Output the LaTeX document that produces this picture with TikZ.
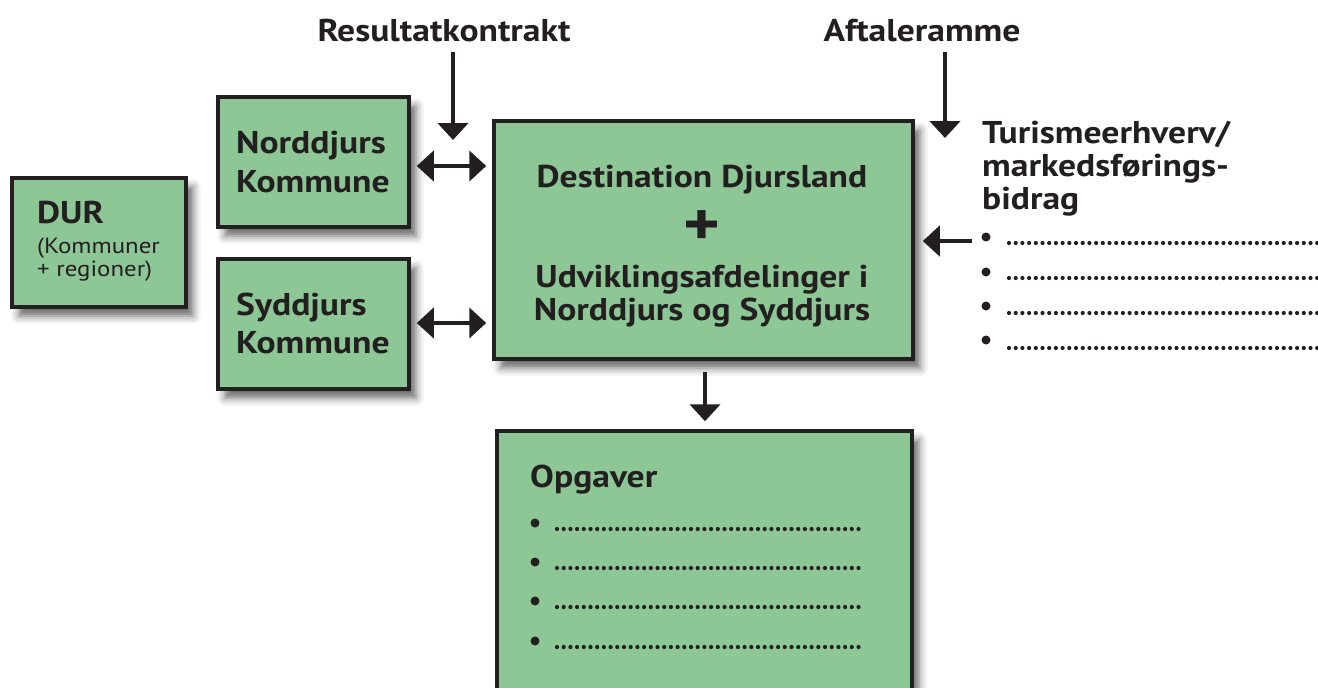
\documentclass[tikz,border=0pt]{standalone}
\usepackage{fontspec}
\setmainfont{PT Sans}[FakeStretch=1.13]
\usetikzlibrary{arrows.meta,shadows.blur}
\definecolor{boxgreen}{RGB}{141,199,150}
\definecolor{ink}{RGB}{35,31,32}
\begin{document}
\begin{tikzpicture}[x=1pt,y=-1pt,
  box/.style={draw=ink, line width=3.5pt, fill=boxgreen, inner sep=0pt,
    blur shadow={shadow xshift=7pt, shadow yshift=-9pt, shadow blur radius=8pt, shadow opacity=60}},
  arr/.style={draw=ink, line width=4.5pt, -{Triangle[width=30pt,length=17pt]}},
  dbl/.style={draw=ink, line width=4.5pt, {Triangle[width=30pt,length=17pt]}-{Triangle[width=30pt,length=17pt]}},
  big/.style={font=\fontsize{31.5}{38}\selectfont\bfseries, text=ink, inner sep=0pt},
  small/.style={font=\fontsize{22}{25}\selectfont, text=ink, inner sep=0pt},
  bul/.style={fill=ink, draw=none},
  lead/.style={draw=ink, line width=4.2pt, line cap=round, dash pattern=on 0pt off 6.7pt}
]
\useasboundingbox (0,0) rectangle (1318,688);

% boxes
\node[box, minimum width=174pt, minimum height=129pt] (dur) at (99,242.5) {};
\node[box, minimum width=191pt, minimum height=130pt] (nord) at (313.5,162) {};
\node[box, minimum width=191pt, minimum height=130pt] (syd) at (313.5,324) {};
\node[box, minimum width=419pt, minimum height=238pt] (main) at (703.5,240) {};
\node[box, minimum width=415pt, minimum height=270pt] (opg) at (704.5,566) {};

% texts
\node[big, anchor=base west] (durt) at (37,223) {DUR};
\node[small, anchor=base west] (durk) at (37,253) {(Kommuner};
\node[small, anchor=base west] (durr) at (37,276) {+ regioner)};

\node[big, anchor=base west] (nord1) at (236,153) {Norddjurs};
\node[big, anchor=base west] (nord2) at (236,192) {Kommune};
\node[big, anchor=base west] (syd1) at (236,315) {Syddjurs};
\node[big, anchor=base west] (syd2) at (236,353) {Kommune};

\node[big, anchor=base] (m1) at (702,187) {Destination Djursland};
\node[font=\fontsize{62}{62}\selectfont\bfseries, text=ink, inner sep=0pt] (plus) at (702,228.5) {+};
\node[big, anchor=base] (m2) at (702,287) {Udviklingsafdelinger i};
\node[big, anchor=base] (m3) at (702,320) {Norddjurs og Syddjurs};

\node[big, anchor=base] (rk) at (444,41) {Resultatkontrakt};
\node[big, anchor=base] (af) at (922,41) {Aftaleramme};

\node[big, anchor=base west] (t1) at (982,143) {Turismeerhverv/};
\node[big, anchor=base west] (t2) at (982,176) {markedsførings-};
\node[big, anchor=base west] (t3) at (982,209) {bidrag};

\node[big, anchor=base west] (op) at (530,487) {Opgaver};

% bullet lists
\foreach \yb/\yd in {237/243,272/278,306/313,340/348} {
  \fill[bul] (986,\yb) circle (4.5pt);
  \draw[lead] (1009,\yd) -- (1318,\yd);
}
\foreach \yb in {523,562,601,641} {
  \fill[bul] (535,\yb) circle (4.5pt);
  \draw[lead] (557,\yb+6) -- (864,\yb+6);
}

% arrows
\coordinate (rkA) at (453,52);
\coordinate (rkB) at (453,140);
\draw[arr] (rkA) -- (rkB);
\coordinate (afA) at (945,52);
\coordinate (afB) at (945,138);
\draw[arr] (afA) -- (afB);

\coordinate (n1) at ([yshift=-4pt]nord.east);
\draw[dbl, shorten <=6pt, shorten >=6pt] (n1) -- (n1 -| main.west);
\coordinate (s1) at ([yshift=1pt]syd.east);
\draw[dbl, shorten <=6pt, shorten >=6pt] (s1) -- (s1 -| main.west);

\coordinate (tl) at (972,241);
\draw[arr, shorten >=8pt] (tl) -- (tl -| main.east);

\draw[arr, shorten <=11pt, shorten >=8pt] ([xshift=1.5pt]main.south) -- ([xshift=1.5pt]main.south |- opg.north);
\end{tikzpicture}
\end{document}
